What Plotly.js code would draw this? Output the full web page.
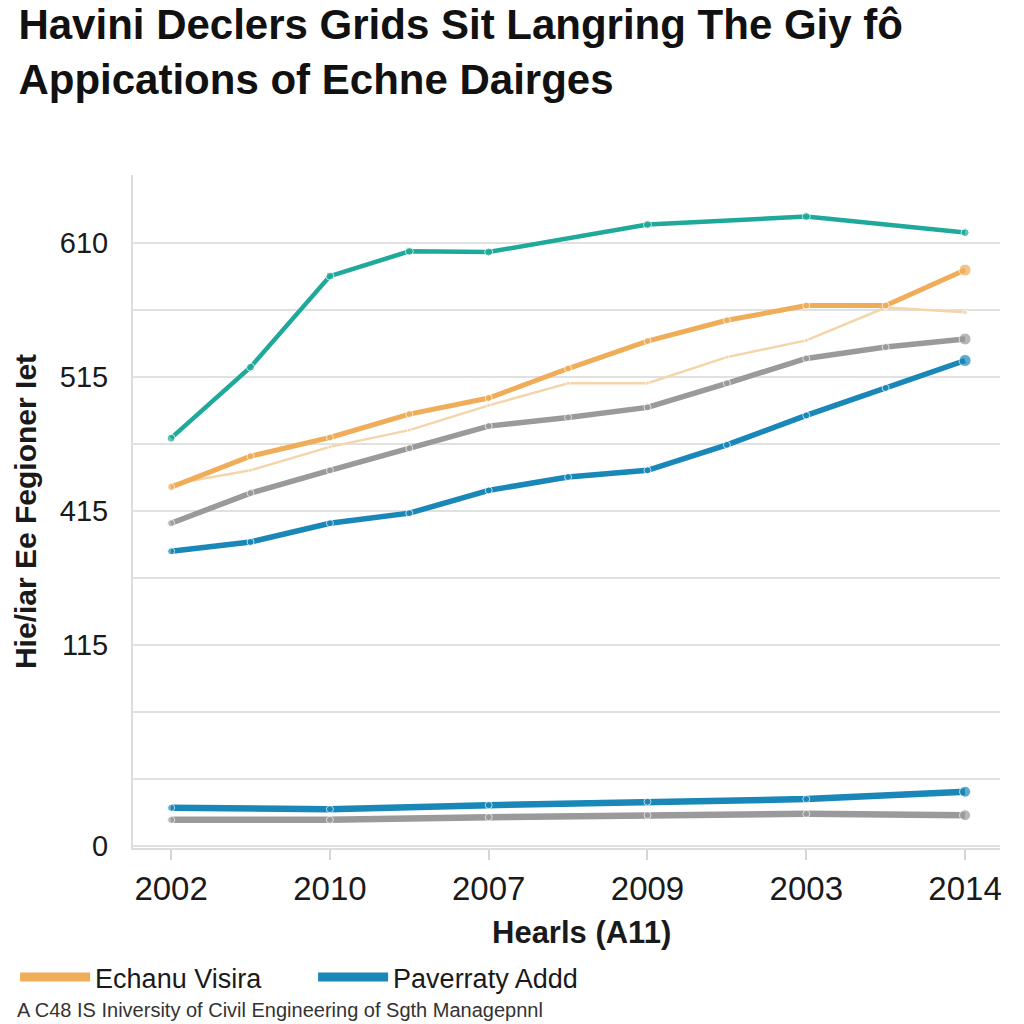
<!DOCTYPE html>
<html>
<head>
<meta charset="utf-8">
<script src="https://cdn.plot.ly/plotly-3.0.1.min.js"></script>
<style>html,body{margin:0;padding:0;background:#fff;}#chart{width:1024px;height:1024px;}</style>
</head>
<body>
<div id="chart"></div>
<script>
// ---- data ----
const xTickLabels = ['2002', '2010', '2007', '2009', '2003', '2014'];
const xTickPos = [0, 1, 2, 3, 4, 5];
const yTickPos = [0, 1, 2, 3, 4, 5, 6, 7, 8, 9];
const yTickLabels = ['0', '', '', '115', '', '415', '', '515', '', '610'];

const xHalf = [0, 0.5, 1, 1.5, 2, 2.5, 3, 3.5, 4, 4.5, 5];
const xTeal = [0, 0.5, 1, 1.5, 2, 3, 4, 5];
const tealValues = [6.09, 7.15, 8.51, 8.88, 8.87, 9.28, 9.40, 9.16];
const orangeValues = [5.36, 5.82, 6.10, 6.45, 6.69, 7.13, 7.54, 7.85, 8.07, 8.07, 8.60];
const lightOrangeValues = [5.40, 5.61, 5.96, 6.21, 6.58, 6.91, 6.91, 7.30, 7.55, 8.04, 7.97];
const greyValues = [4.82, 5.27, 5.61, 5.94, 6.27, 6.40, 6.55, 6.91, 7.28, 7.45, 7.57];
const blueValues = [4.40, 4.54, 4.82, 4.97, 5.31, 5.51, 5.61, 5.99, 6.43, 6.84, 7.25];
const xLow = [0, 1, 2, 3, 4, 5];
const lowBlueValues = [0.57, 0.55, 0.61, 0.66, 0.70, 0.81];
const lowGreyValues = [0.39, 0.39, 0.43, 0.46, 0.48, 0.46];

const seriesNames = ['Echanu Visira', 'Paverraty Addd'];
const titleText = 'Havini Declers Grids Sit Langring The Giy fô<br>Appications of Echne Dairges';
const xTitle = 'Hearls (A11)';
const yTitle = 'Hie/iar Ee Fegioner Iet';
const footerText = 'A C48 IS Iniversity of Civil Engineering of Sgth Managepnnl';

// ---- styling ----
const ORANGE = '#f0ad59', BLUE = '#1987b7', GREY = '#9a9a9c', TEAL = '#1ea99a', LIGHT = '#f4d4a9';
const sizes = (arr, small, big) => arr.map((_, i) => i === arr.length - 1 ? big : small);
function line(x, y, color, width, small, big) {
  return {
    type: 'scatter', mode: 'lines+markers', x: x, y: y,
    showlegend: false,
    line: {color: color, width: width},
    marker: {color: color, size: sizes(y, small, big)},
    hoverinfo: 'skip'
  };
}
function legendEntry(name, color) {
  return {type: 'scatter', mode: 'lines', x: [null], y: [null], name: name,
    showlegend: true, line: {color: color, width: 9}, hoverinfo: 'skip'};
}

const traces = [
  line(xHalf, lightOrangeValues, LIGHT, 2.5, 4, 5),
  line(xTeal, tealValues, TEAL, 4.5, 8, 8),
  line(xHalf, orangeValues, ORANGE, 5, 7, 12),
  line(xHalf, greyValues, GREY, 5.5, 7, 12),
  line(xHalf, blueValues, BLUE, 5.5, 7, 12),
  line(xLow, lowGreyValues, GREY, 6.5, 7, 11),
  line(xLow, lowBlueValues, BLUE, 6.5, 7, 11),
  legendEntry(seriesNames[0], ORANGE),
  legendEntry(seriesNames[1], BLUE)
];

const fontFam = 'Liberation Sans, sans-serif';
const layout = {
  width: 1024, height: 1024,
  paper_bgcolor: '#ffffff', plot_bgcolor: '#ffffff',
  margin: {l: 133, r: 24, t: 175, b: 176},
  title: {
    text: titleText, x: 0.018, xanchor: 'left', xref: 'container',
    y: 0.962, yanchor: 'top', yref: 'container',
    font: {family: fontFam, size: 42, color: '#111111', weight: 'bold'}
  },
  xaxis: {
    range: [-0.24, 5.22], tickmode: 'array', tickvals: xTickPos, ticktext: xTickLabels,
    showgrid: false, zeroline: false, showline: true, linecolor: '#dddddd', linewidth: 2,
    ticks: 'outside', ticklen: 10, tickcolor: '#d5d5d5', tickwidth: 2,
    tickfont: {family: fontFam, size: 33, color: '#1a1a1a'},
    fixedrange: true
  },
  yaxis: {
    range: [-0.03, 10.02], tickmode: 'array', tickvals: yTickPos, ticktext: yTickLabels,
    showgrid: true, gridcolor: '#e1e1e1', gridwidth: 2, zeroline: false,
    showline: true, linecolor: '#dddddd', linewidth: 2, ticks: '', ticklabelstandoff: 17,
    tickfont: {family: fontFam, size: 29, color: '#1a1a1a'},
    title: {text: yTitle, standoff: 14,
      font: {family: fontFam, size: 30, color: '#1a1a1a', weight: 'bold'}},
    fixedrange: true
  },
  legend: {
    orientation: 'h', x: -0.136, xanchor: 'left', y: -0.156, yanchor: 'top',
    font: {family: fontFam, size: 27, color: '#1a1a1a'},
    entrywidth: 213, entrywidthmode: 'pixels', itemwidth: 70, tracegroupgap: 0, bgcolor: 'rgba(0,0,0,0)'
  },
  annotations: [
    {
      text: xTitle, xref: 'paper', yref: 'paper', x: 0.517, xanchor: 'center',
      y: -0.125, yanchor: 'middle', showarrow: false,
      font: {family: fontFam, size: 31, color: '#1a1a1a', weight: 'bold'}
    },
    {
      text: footerText, xref: 'paper', yref: 'paper', x: -0.136, xanchor: 'left',
      y: -0.240, yanchor: 'middle', showarrow: false,
      font: {family: fontFam, size: 20, color: '#333333'}
    }
  ]
};

Plotly.newPlot('chart', traces, layout, {displayModeBar: false, staticPlot: true});
</script>
</body>
</html>
